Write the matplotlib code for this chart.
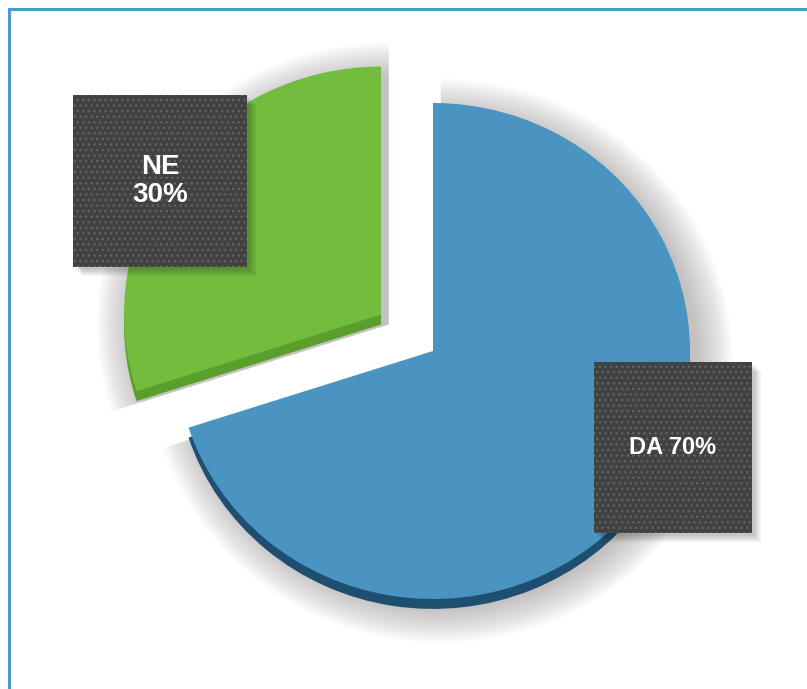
import matplotlib.pyplot as plt
from matplotlib.patches import Rectangle

# data
labels = ['NE', 'DA']
shares = [30, 70]
face_colors = ['#72bc3e', '#4a94c1']
side_colors = ['#5a9e2c', '#1f4f70']
explode = [0.25, 0]

W, H = 807, 689
fig = plt.figure(figsize=(W / 100, H / 100), dpi=100)
ax = fig.add_axes([0, 0, 1, 1])

# soft drop shadow under the pie
for k in range(18):
    ax.pie(shares, explode=explode, startangle=90, colors=['#8a8080'] * 2,
           radius=1 + 0.008 * k, center=(0.03, -0.04),
           wedgeprops=dict(alpha=0.03, linewidth=0))

# side (depth) of the pie, then the top face
ax.pie(shares, explode=explode, startangle=90, colors=side_colors,
       center=(0, -0.04), wedgeprops=dict(linewidth=0))
ax.pie(shares, explode=explode, startangle=90, colors=face_colors,
       wedgeprops=dict(linewidth=0))

ax.set_aspect('auto')
ax.set_xlim(-433 / 257, (W - 433) / 257)
ax.set_ylim(-(H - 351) / 248, 351 / 248)
ax.axis('off')

# overlay in pixel coords for label boxes and frame
ov = fig.add_axes([0, 0, 1, 1])
ov.set_xlim(0, W)
ov.set_ylim(H, 0)
ov.axis('off')
ov.patch.set_alpha(0)

boxes = [(73, 95, 174, 172), (594, 362, 158, 171)]
texts = [f"{labels[0]}\n{shares[0]}%", f"{labels[1]} {shares[1]}%"]
text_pos = [(160, 181), (673, 448)]
sizes = [20, 17]

for (x, y, w, h), t, (tx, ty), fs in zip(boxes, texts, text_pos, sizes):
    for off in (3, 5, 7, 9):
        ov.add_patch(Rectangle((x + off, y + off), w, h, facecolor='#000000',
                               alpha=0.06, linewidth=0))
    ov.add_patch(Rectangle((x, y), w, h, facecolor='#414141',
                           edgecolor='#636363', hatch='...', linewidth=0))
    ov.text(tx, ty, t, ha='center', va='center', color='white', fontsize=fs,
            fontweight='bold', family='Liberation Sans', linespacing=1.15)

ov.plot([9, 9, W + 5], [H + 5, 9, 9], color='#4a9ccc', lw=2.2,
        solid_joinstyle='miter')

fig.savefig('out.png', dpi=100)
